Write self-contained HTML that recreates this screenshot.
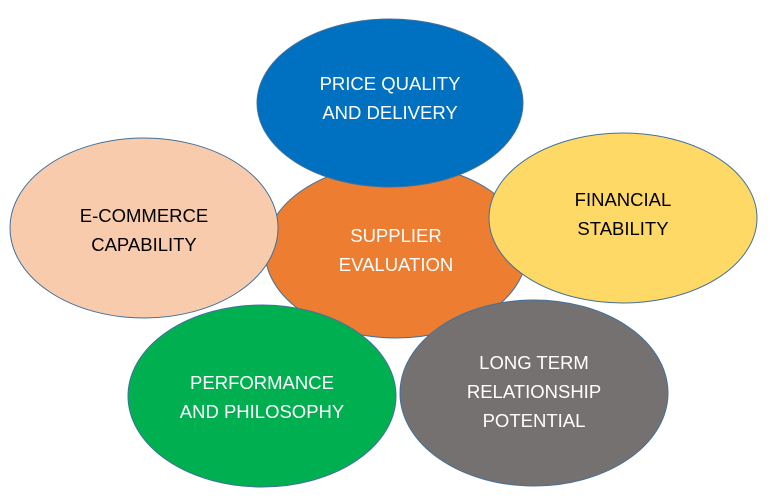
<!DOCTYPE html>
<html><head><meta charset="utf-8"><style>
html,body{margin:0;padding:0;background:#fff}
svg{display:block}
text{font-family:"Liberation Sans",sans-serif;font-size:18.5px;text-anchor:middle}
</style></head><body>
<svg width="771" height="498" viewBox="0 0 771 498" xmlns="http://www.w3.org/2000/svg">
<g stroke="#41719C" stroke-width="1">
<ellipse cx="396" cy="251" rx="131" ry="87" fill="#ED7D31"/>
<ellipse cx="390" cy="103" rx="133" ry="84" fill="#0070C0"/>
<ellipse cx="144" cy="228" rx="134" ry="90" fill="#F8CBAD"/>
<ellipse cx="623" cy="218" rx="134" ry="85" fill="#FFD966"/>
<ellipse cx="262" cy="396" rx="134" ry="91" fill="#00B050"/>
<ellipse cx="534" cy="393" rx="134" ry="93" fill="#767171"/>
</g>
<g fill="#fff">
<text x="396" y="242">SUPPLIER</text><text x="396" y="271">EVALUATION</text>
<text x="390" y="90">PRICE QUALITY</text><text x="390" y="119">AND DELIVERY</text>
<text x="262" y="389">PERFORMANCE</text><text x="262" y="418">AND PHILOSOPHY</text>
<text x="534" y="369">LONG TERM</text><text x="534" y="398">RELATIONSHIP</text><text x="534" y="427">POTENTIAL</text>
</g>
<g fill="#000">
<text x="144" y="222">E-COMMERCE</text><text x="144" y="251">CAPABILITY</text>
<text x="623" y="206">FINANCIAL</text><text x="623" y="235">STABILITY</text>
</g>
</svg>
</body></html>
